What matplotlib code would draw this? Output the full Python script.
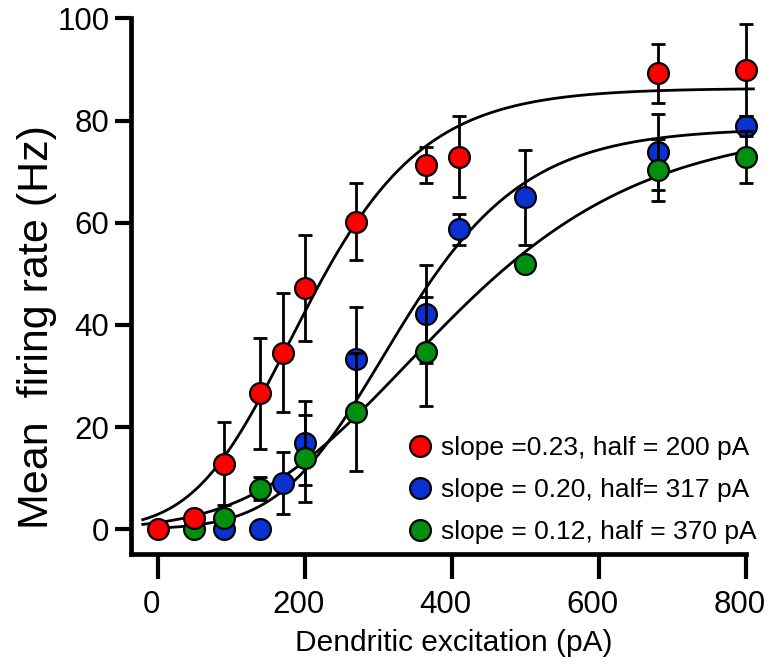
import numpy as np
import matplotlib
matplotlib.use('Agg')
from matplotlib import pyplot as plt
from matplotlib.lines import Line2D
from matplotlib import transforms

plt.rcParams['font.family'] = ['Liberation Sans', 'DejaVu Sans']

# Medidas (corrente em pA, taxa em Hz)
red_x = [0, 50, 90, 140, 170, 200, 270, 365, 410, 680, 800]
red_y = [0, 2.2, 12.9, 26.6, 34.6, 47.2, 60.2, 71.3, 72.9, 89.2, 89.9]
red_err = [0, 1.6, 8.2, 10.8, 11.6, 10.4, 7.5, 3.6, 7.9, 5.8, 9.0]

blue_x = [90, 140, 170, 200, 270, 365, 410, 500, 680, 800]
blue_y = [0, 0, 9.1, 16.9, 33.3, 42.1, 58.7, 65.0, 73.9, 78.9]
blue_err = [0, 0, 6.0, 8.2, 10.3, 9.6, 3.0, 9.3, 7.4, 2.0]

green_x = [50, 90, 140, 200, 270, 365, 500, 680, 800]
green_y = [0, 2.15, 8.0, 13.9, 23.0, 34.8, 51.9, 70.3, 72.9]
green_err = [0, 0, 2.2, 8.5, 11.5, 10.6, 1.0, 6.1, 5.1]

# parametros das curvas ajustadas: amplitude, centro, largura, expoente
red_fit = [86.3, 77.5, 96.0, 2.875]
blue_fit = [78.5, 207.5, 102.0, 2.625]
green_fit = [79.2, 107.5, 172.0, 3.875]

# intervalo (pA) em que cada curva foi tracada
red_span = [-20, 810]
blue_span = [0, 795]
green_span = [-20, 792]

labels = ['slope =0.23, half = 200 pA',
          'slope = 0.20, half= 317 pA',
          'slope = 0.12, half = 370 pA']


def richards(x, A, h, k, nu):
    return A * (1 + np.exp(-(x - h) / k)) ** (-nu)


fig = plt.figure(figsize=(7.73, 6.69), dpi=100)
ax = fig.add_axes([0.1695, 0.1719, 0.7956, 0.8008])

for p, (a, b) in [(red_fit, red_span), (blue_fit, blue_span), (green_fit, green_span)]:
    xx = np.linspace(a, b, 300)
    ax.plot(xx, richards(xx, *p), color='black', lw=2, zorder=1, clip_on=False)

series = [(blue_x, blue_y, blue_err, '#0a32d2'),
          (green_x, green_y, green_err, '#009010'),
          (red_x, red_y, red_err, '#ff0000')]
z = 2
for x, y, e, c in series:
    ax.errorbar(x, y, yerr=e, fmt='none', ecolor='black', elinewidth=2,
                capsize=5, capthick=2, zorder=z, clip_on=False)
    ax.plot(x, y, 'o', ms=15, mfc=c, mec='black', mew=1.6, zorder=z + 1,
            clip_on=False)
    z += 2

handles = [Line2D([], [], ls='none', marker='o', ms=15, mfc=c, mec='black', mew=1.6)
           for c in ['#ff0000', '#0a32d2', '#009010']]
ax.legend(handles, labels, loc='center left', bbox_to_anchor=(0.436, 0.1195),
          frameon=False, fontsize=19, handlelength=0.8, handletextpad=0.4,
          labelspacing=0.68, borderaxespad=0)

ax.set_xlim(-36, 800)
ax.set_ylim(-4.8, 100)
ax.set_xticks([0, 200, 400, 600, 800])
ax.set_yticks([0, 20, 40, 60, 80, 100])
for s in ['top', 'right']:
    ax.spines[s].set_visible(False)
for s in ['left', 'bottom']:
    ax.spines[s].set_linewidth(3.4)
ax.tick_params(axis='x', length=18, width=3, labelsize=22.5, pad=8, direction='out')
ax.tick_params(axis='y', length=11.5, width=3, labelsize=22.5, pad=4, direction='out')
desloc = transforms.ScaledTranslation(-6 / 100, 0, fig.dpi_scale_trans)
for lb in ax.get_xticklabels():
    lb.set_transform(lb.get_transform() + desloc)

ax.set_xlabel('Dendritic excitation (pA)', fontsize=21.5)
ax.xaxis.set_label_coords(0.525, -0.14)
ax.set_ylabel('Mean  firing rate (Hz)', fontsize=31)
ax.yaxis.set_label_coords(-0.12, 0.424)

fig.savefig('out.png', dpi=100)
